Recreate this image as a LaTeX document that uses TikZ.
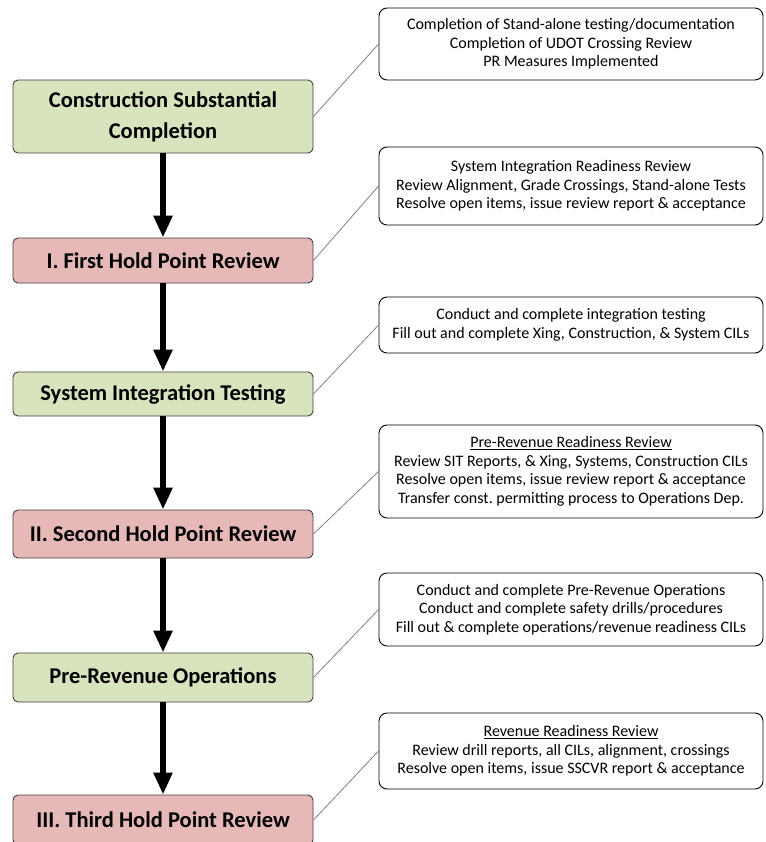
\documentclass[tikz,border=0pt]{standalone}
\usepackage{fontspec}
\setmainfont{Carlito}
\usetikzlibrary{arrows.meta}
\definecolor{stagegreen}{HTML}{D7E4BD}
\definecolor{holdred}{HTML}{E6B9B8}
\definecolor{boxline}{HTML}{404040}
\tikzset{
    stage/.style={%left column boxes
        draw=boxline,line width=0.9pt,rounded corners=5pt,
        minimum width=300pt,inner sep=0pt,align=center,
        font=\bfseries\fontsize{22.5}{31}\selectfont},
    note/.style={%right column boxes
        draw=black,line width=0.9pt,rounded corners=8pt,
        minimum width=384pt,inner sep=0pt,align=center,
        font=\fontsize{16}{18.5}\selectfont},
    flow/.style={line width=6pt,-{Triangle[length=22pt,width=18pt]}},
    link/.style={draw=gray,line width=0.8pt}
    }
\begin{document}
\begin{tikzpicture}[line join=round,x=1pt,y=-1pt]
\useasboundingbox (0,0) rectangle (765,842);
\node[stage,fill=stagegreen,minimum height=73pt] (cons) at (163,116.5) {Construction Substantial\\Completion};
\node[stage,fill=holdred,minimum height=45pt] (hold1) at (163,260.5) {I. First Hold Point Review};
\node[stage,fill=stagegreen,minimum height=44pt] (sit) at (163,394) {System Integration Testing};
\node[stage,fill=holdred,minimum height=48pt] (hold2) at (163,534) {II. Second Hold Point Review};
\node[stage,fill=stagegreen,minimum height=49pt] (preop) at (163,677.5) {Pre-Revenue Operations};
\node[stage,fill=holdred,minimum height=50pt] (hold3) at (163,820) {III. Third Hold Point Review};
\node[note,minimum height=72pt] (consnote) at (571,44) {Completion of Stand-alone testing/documentation\\Completion of UDOT Crossing Review\\PR Measures Implemented};
\node[note,minimum height=78pt] (hold1note) at (571,186) {System Integration Readiness Review\\Review Alignment, Grade Crossings, Stand-alone Tests\\Resolve open items, issue review report \& acceptance};
\node[note,minimum height=56pt] (sitnote) at (571,325) {Conduct and complete integration testing\\Fill out and complete Xing, Construction, \& System CILs};
\node[note,minimum height=93pt] (hold2note) at (571,471.5) {\underline{Pre-Revenue Readiness Review}\\Review SIT Reports, \& Xing, Systems, Construction CILs\\Resolve open items, issue review report \& acceptance\\Transfer const.\ permitting process to Operations Dep.};
\node[note,minimum height=73pt] (preopnote) at (571,609.5) {Conduct and complete Pre-Revenue Operations\\Conduct and complete safety drills/procedures\\Fill out \& complete operations/revenue readiness CILs};
\node[note,minimum height=76pt] (hold3note) at (571,751) {\underline{Revenue Readiness Review}\\Review drill reports, all CILs, alignment, crossings\\Resolve open items, issue SSCVR report \& acceptance};
\foreach \a/\b in {cons/hold1,hold1/sit,sit/hold2,hold2/preop,preop/hold3}
\draw[flow] (\a.south) -- (\b.north);
\foreach \a in {cons,hold1,sit,hold2,preop,hold3}
\draw[link] (\a.east) -- (\a note.west);
\end{tikzpicture}
\end{document}
